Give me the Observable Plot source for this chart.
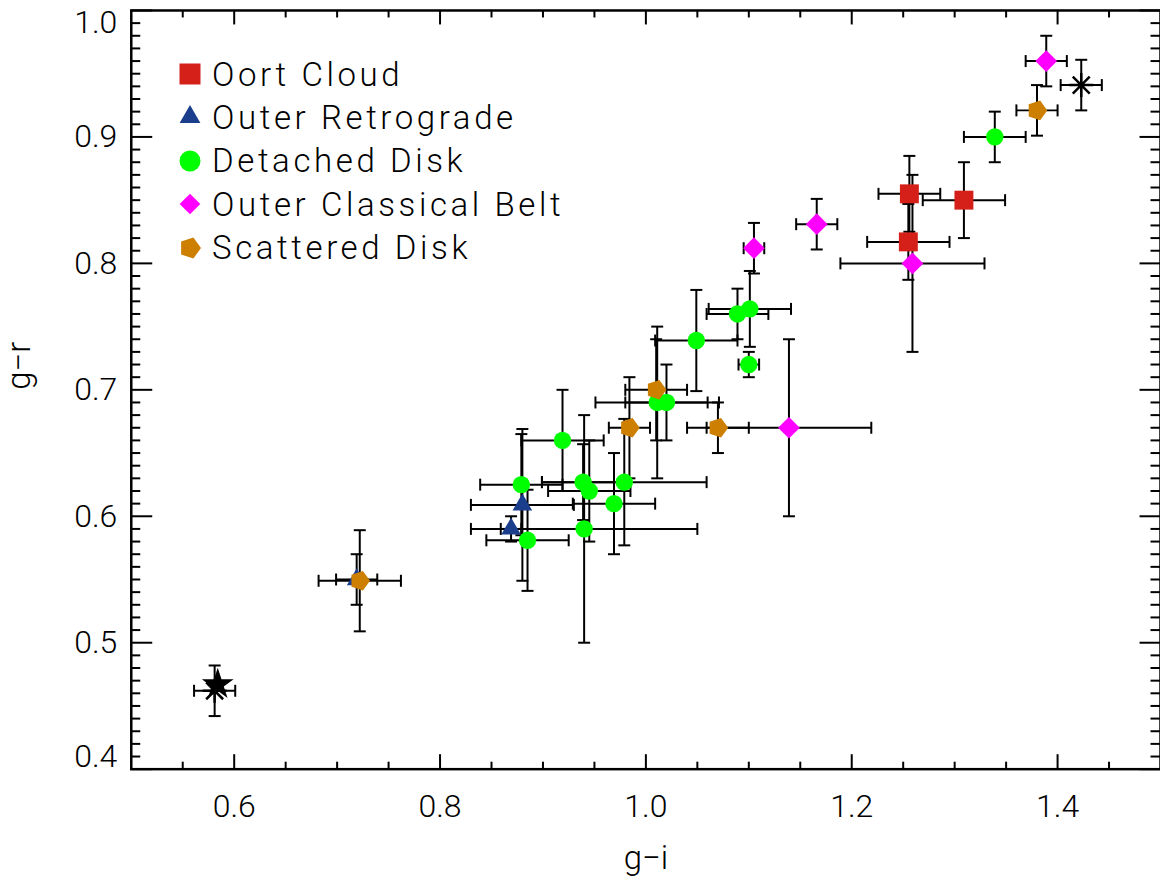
<!DOCTYPE html>
<html>
<head>
<meta charset="utf-8">
<script src="https://cdn.jsdelivr.net/npm/d3@7"></script>
<script src="https://cdn.jsdelivr.net/npm/@observablehq/plot@0.6"></script>
<style>
  html, body { margin: 0; padding: 0; background: #fff; overflow: hidden; }
  #wrap { position: relative; width: 1160px; height: 880px; overflow: hidden; }
  #legend { position: absolute; left: 0; top: 0; font-family: Roboto, "DejaVu Sans", sans-serif; font-weight: 300; font-size: 33px; color: #000; }
  .row { position: absolute; left: 176px; height: 40px; display: flex; align-items: center; white-space: nowrap; letter-spacing: 3.6px; }
  .row svg { width: 28px; height: 28px; margin-right: 8px; overflow: visible; }
</style>
</head>
<body>
<div id="wrap"><div id="chart"></div><div id="legend"></div></div>
<script>
// ---------------- data ----------------
const seriesNames  = ["Oort Cloud", "Outer Retrograde", "Detached Disk", "Outer Classical Belt", "Scattered Disk"];
const seriesColors = ["#d42019", "#1a3d8c", "#00ff00", "#ff00ff", "#cc7f00"];

// rows: [g-i, g-r, err(g-i), err(g-r)]
const oortCloud = [
  [1.256, 0.855, 0.03, 0.03],
  [1.255, 0.817, 0.04, 0.03],
  [1.309, 0.850, 0.04, 0.03]
];
const outerRetrograde = [
  [0.880, 0.609, 0.05, 0.06],
  [0.869, 0.590, 0.01, 0.01],
  [0.719, 0.550, 0.02, 0.02]
];
const detachedDisk = [
  [1.339, 0.900, 0.03, 0.02],
  [1.089, 0.760, 0.03, 0.02],
  [1.101, 0.764, 0.04, 0.03],
  [1.100, 0.720, 0.01, 0.01],
  [1.049, 0.739, 0.04, 0.04],
  [1.011, 0.690, 0.06, 0.06],
  [1.020, 0.690, 0.04, 0.03],
  [0.919, 0.660, 0.04, 0.04],
  [0.879, 0.625, 0.04, 0.04],
  [0.939, 0.627, 0.04, 0.03],
  [0.945, 0.620, 0.04, 0.04],
  [0.979, 0.627, 0.08, 0.05],
  [0.969, 0.610, 0.04, 0.04],
  [0.940, 0.590, 0.11, 0.09],
  [0.885, 0.581, 0.04, 0.04]
];
const outerClassicalBelt = [
  [1.389, 0.960, 0.02, 0.02],
  [1.166, 0.831, 0.02, 0.02],
  [1.105, 0.812, 0.01, 0.02],
  [1.259, 0.800, 0.07, 0.07],
  [1.139, 0.670, 0.08, 0.07]
];
const scatteredDisk = [
  [1.380, 0.921, 0.02, 0.02],
  [1.010, 0.700, 0.03, 0.04],
  [0.984, 0.670, 0.02, 0.04],
  [1.070, 0.670, 0.03, 0.02],
  [0.722, 0.549, 0.04, 0.04]
];
const referenceStar = [[0.584, 0.467]];
const referenceAsterisk = [
  [0.581, 0.462, 0.02, 0.02],
  [1.423, 0.941, 0.02, 0.02]
];

const xMajor = [0.6, 0.8, 1.0, 1.2, 1.4];
const xMinor = [0.55, 0.65, 0.7, 0.75, 0.85, 0.9, 0.95, 1.05, 1.1, 1.15, 1.25, 1.3, 1.35, 1.45];
const yMajor = [0.4, 0.5, 0.6, 0.7, 0.8, 0.9, 1.0];
const yMinor = d3.range(41, 100).filter(v => v % 10 !== 0).map(v => v / 100);

// ---------------- helpers ----------------
const FONT = 'Roboto, "DejaVu Sans", sans-serif';
const toRows = (arr, series) => arr.map(([gi, gr, egi = 0, egr = 0]) => ({series, gi, gr, egi, egr}));

const pentagon = {
  draw(ctx, size) {
    const r = Math.sqrt(size / Math.PI);
    for (let k = 0; k < 5; k++) {
      const a = (k * 2 * Math.PI) / 5;
      const x = r * Math.cos(a), y = r * Math.sin(a);
      if (k === 0) ctx.moveTo(x, y); else ctx.lineTo(x, y);
    }
    ctx.closePath();
  }
};
const asterisk = {
  draw(ctx, size) {
    const r = Math.sqrt(size / Math.PI);
    const d = r * Math.SQRT1_2;
    ctx.moveTo(-r, 0); ctx.lineTo(r, 0);
    ctx.moveTo(0, -r); ctx.lineTo(0, r);
    ctx.moveTo(-d, -d); ctx.lineTo(d, d);
    ctx.moveTo(-d, d); ctx.lineTo(d, -d);
  }
};
const vline = (a, b) => ({draw(ctx) { ctx.moveTo(0, a); ctx.lineTo(0, b); }});
const hline = (a, b) => ({draw(ctx) { ctx.moveTo(a, 0); ctx.lineTo(b, 0); }});

const seriesData = [oortCloud, outerRetrograde, detachedDisk, outerClassicalBelt, scatteredDisk];
const seriesSymbols = ["square", "triangle", "circle", "diamond2", pentagon];
const seriesR = [10.7, 7.3, 8.7, 9.8, 10.3];

const allRows = [
  ...seriesData.flatMap((arr, i) => toRows(arr, seriesNames[i])),
  ...toRows(referenceAsterisk, "ref")
];

const errStyle = {stroke: "black", strokeWidth: 2};
const capStyle = {stroke: "black", strokeWidth: 2, fill: "none"};
const tickStyle = {stroke: "black", strokeWidth: 2, fill: "none"};

const marks = [
  // error bars
  Plot.link(allRows, {x1: d => d.gi - d.egi, x2: d => d.gi + d.egi, y1: "gr", y2: "gr", ...errStyle}),
  Plot.link(allRows, {x1: "gi", x2: "gi", y1: d => d.gr - d.egr, y2: d => d.gr + d.egr, ...errStyle}),
  Plot.dot(allRows, {x: d => d.gi - d.egi, y: "gr", symbol: vline(-6, 6), ...capStyle}),
  Plot.dot(allRows, {x: d => d.gi + d.egi, y: "gr", symbol: vline(-6, 6), ...capStyle}),
  Plot.dot(allRows, {x: "gi", y: d => d.gr - d.egr, symbol: hline(-6, 6), ...capStyle}),
  Plot.dot(allRows, {x: "gi", y: d => d.gr + d.egr, symbol: hline(-6, 6), ...capStyle}),
  // markers
  ...seriesData.map((arr, i) =>
    Plot.dot(toRows(arr, seriesNames[i]), {x: "gi", y: "gr", symbol: seriesSymbols[i], r: seriesR[i], fill: seriesColors[i], stroke: "none"})
  ),
  Plot.dot(toRows(referenceStar, "star"), {x: "gi", y: "gr", symbol: "star", r: 10, fill: "black", stroke: "none"}),
  Plot.dot(toRows(referenceAsterisk, "ref"), {x: "gi", y: "gr", symbol: asterisk, r: 12, fill: "none", stroke: "black", strokeWidth: 2.5}),
  // ticks
  Plot.dot(xMajor, {x: d => d, frameAnchor: "bottom", symbol: vline(0, -15), ...tickStyle}),
  Plot.dot(xMinor, {x: d => d, frameAnchor: "bottom", symbol: vline(0, -7.5), ...tickStyle}),
  Plot.dot(xMajor, {x: d => d, frameAnchor: "top", symbol: vline(0, 14), ...tickStyle}),
  Plot.dot(xMinor, {x: d => d, frameAnchor: "top", symbol: vline(0, 7), ...tickStyle}),
  Plot.dot(yMajor, {y: d => d, frameAnchor: "left", symbol: hline(0, 21), ...tickStyle}),
  Plot.dot(yMinor, {y: d => d, frameAnchor: "left", symbol: hline(0, 9), ...tickStyle}),
  Plot.dot(yMajor, {y: d => d, frameAnchor: "right", symbol: hline(0, -21), ...tickStyle}),
  Plot.dot(yMinor, {y: d => d, frameAnchor: "right", symbol: hline(0, -10), ...tickStyle}),
  Plot.frame({stroke: "black", strokeWidth: 2.5}),
  // tick labels
  Plot.text(xMajor, {x: d => d, frameAnchor: "bottom", dy: 38, text: d => d.toFixed(1), lineAnchor: "middle", fontSize: 32}),
  Plot.text(yMajor.filter(v => v > 0.45 && v < 0.95), {y: d => d, frameAnchor: "left", dx: -14, textAnchor: "end", text: d => d.toFixed(1), fontSize: 32}),
  Plot.text(yMajor.filter(v => v > 0.95), {y: d => d, frameAnchor: "left", dx: -14, dy: 12, textAnchor: "end", text: d => d.toFixed(1), fontSize: 32}),
  Plot.text(yMajor.filter(v => v < 0.45), {y: d => d, frameAnchor: "left", dx: -14, dy: -12, textAnchor: "end", text: d => d.toFixed(1), fontSize: 32}),
  // axis titles
  Plot.text(["g\u2212i"], {frameAnchor: "bottom", dy: 89, text: d => d, lineAnchor: "middle", fontSize: 33}),
  Plot.text(["g\u2212r"], {frameAnchor: "left", dx: -112, rotate: -90, text: d => d, lineAnchor: "middle", fontSize: 33})
];

const chart = Plot.plot({
  width: 1162,
  height: 880,
  marginLeft: 131,
  marginRight: 0,
  marginTop: 10,
  marginBottom: 110,
  x: {domain: [0.5, 1.5], axis: null},
  y: {domain: [0.4, 1.0], axis: null},
  style: {fontFamily: FONT, fontWeight: 300, color: "black", background: "white", overflow: "visible"},
  marks
});
document.getElementById("chart").appendChild(chart);

// ---------------- legend ----------------
const legendSymbols = [d3.symbolSquare, d3.symbolTriangle, d3.symbolCircle, d3.symbolDiamond2, pentagon];
const legendSizes = [441, 186, 346, 273, 380];
const legend = document.getElementById("legend");
seriesNames.forEach((name, i) => {
  const row = document.createElement("div");
  row.className = "row";
  row.style.top = (74 + i * 43.4 - 20) + "px";
  const path = d3.symbol(legendSymbols[i], legendSizes[i])();
  row.innerHTML = `<svg viewBox="-14 -14 28 28"><path d="${path}" fill="${seriesColors[i]}"/></svg><span>${name}</span>`;
  legend.appendChild(row);
});
</script>
</body>
</html>
